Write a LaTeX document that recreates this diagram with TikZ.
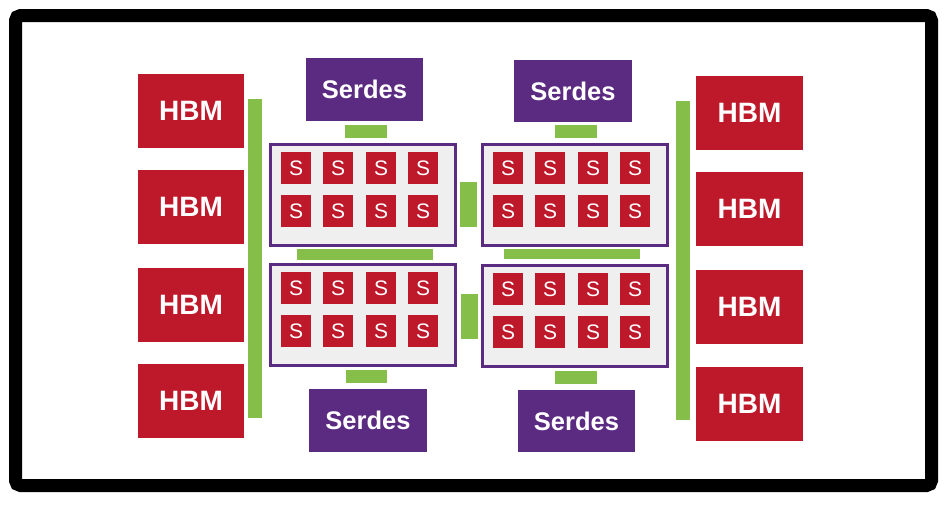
\documentclass[tikz,border=0pt]{standalone}
\usepackage{fontspec}
\setmainfont{Liberation Sans}
\definecolor{hbmred}{RGB}{190,25,43}
\definecolor{serpurple}{RGB}{91,43,130}
\definecolor{lnkgreen}{RGB}{134,190,74}
\definecolor{clgray}{RGB}{239,239,239}
\begin{document}
\begin{tikzpicture}[x=1pt,y=-1pt,
  box/.style={anchor=north west, inner sep=0pt, outer sep=0pt},
  hbm/.style={box, fill=hbmred, text=white, font=\bfseries\fontsize{28}{30}\selectfont, minimum width=106pt, minimum height=74pt},
  serdes/.style={box, fill=serpurple, text=white, font=\bfseries\fontsize{25.5}{27}\selectfont, minimum width=118pt, minimum height=63pt},
  cluster/.style={box, fill=clgray, draw=serpurple, line width=3pt, minimum width=185pt, minimum height=101pt},
  score/.style={box, fill=hbmred, text=white, font=\fontsize{21}{23}\selectfont, minimum width=30pt, minimum height=32pt},
  link/.style={box, fill=lnkgreen}]
\useasboundingbox (0,0) rectangle (950,506);
\fill[white] (0,0) rectangle (950,506);
\draw[line width=13pt, rounded corners=5pt] (15.5,15.5) rectangle (931.5,485.5);
% HBM left
\node[hbm] (hl1) at (138,74) {HBM};
\node[hbm] (hl2) at (138,170) {HBM};
\node[hbm] (hl3) at (138,268) {HBM};
\node[hbm] (hl4) at (138,364) {HBM};
% HBM right
\node[hbm, minimum width=107pt] (hr1) at (696,76) {HBM};
\node[hbm, minimum width=107pt] (hr2) at (696,172) {HBM};
\node[hbm, minimum width=107pt] (hr3) at (696,270) {HBM};
\node[hbm, minimum width=107pt] (hr4) at (696,367) {HBM};
% Serdes
\node[serdes, minimum width=117pt] (sTL) at (306,58) {Serdes};
\node[serdes, minimum height=62pt] (sTR) at (514,60) {Serdes};
\node[serdes] (sBL) at (309,389) {Serdes};
\node[serdes, minimum width=117pt, minimum height=62pt] (sBR) at (518,390) {Serdes};
% green links
\node[link, minimum width=14pt, minimum height=319pt] (gL) at (248,99) {};
\node[link, minimum width=14pt, minimum height=319pt] (gR) at (676,101) {};
\node[link, minimum width=42pt, minimum height=13pt] (gTL) at (345,125) {};
\node[link, minimum width=42pt, minimum height=13pt] (gTR) at (555,125) {};
\node[link, minimum width=17pt, minimum height=45pt] (gTM) at (460,182) {};
\node[link, minimum width=136pt, minimum height=11pt] (gHL) at (297,249) {};
\node[link, minimum width=136pt, minimum height=10pt] (gHR) at (504,249) {};
\node[link, minimum width=17pt, minimum height=45pt] (gBM) at (461,294) {};
\node[link, minimum width=41pt, minimum height=13pt] (gBL) at (346,370) {};
\node[link, minimum width=42pt, minimum height=13pt] (gBR) at (555,371) {};
% clusters
\foreach \cn/\cx/\cy in {TL/269/143, TR/481/143, BL/269/263, BR/481/264}{
  \node[cluster] (c\cn) at (\cx+1.5,\cy+1.5) {};
  \foreach \dx [count=\i] in {12,54,97,139}{
    \foreach \dy [count=\j] in {9,52}{
      \node[score] (s\cn\i\j) at (\cx+\dx,\cy+\dy) {S};
    }
  }
}
\end{tikzpicture}
\end{document}
